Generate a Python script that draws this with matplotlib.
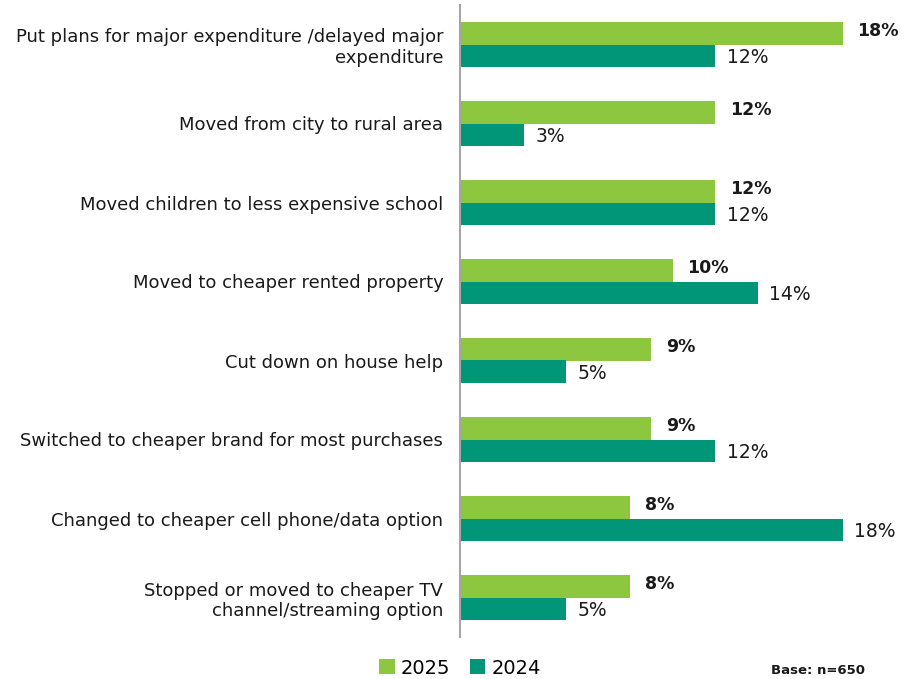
import matplotlib.pyplot as plt
import numpy as np

categories = [
    "Put plans for major expenditure /delayed major\nexpenditure",
    "Moved from city to rural area",
    "Moved children to less expensive school",
    "Moved to cheaper rented property",
    "Cut down on house help",
    "Switched to cheaper brand for most purchases",
    "Changed to cheaper cell phone/data option",
    "Stopped or moved to cheaper TV\nchannel/streaming option",
]
values_2025 = [18, 12, 12, 10, 9, 9, 8, 8]
values_2024 = [12, 3, 12, 14, 5, 12, 18, 5]

GREEN_25 = "#8DC63F"
TEAL_24 = "#009677"

plt.rcParams["font.family"] = ["DejaVu Sans"]

fig = plt.figure(figsize=(9.09, 6.79), dpi=100)
ax = fig.add_axes([460 / 909, 42 / 679, 425 / 909, 632 / 679])

y = np.arange(len(categories))
h = 0.28
ax.barh(y - h / 2, values_2025, height=h, color=GREEN_25, label="2025")
ax.barh(y + h / 2, values_2024, height=h, color=TEAL_24, label="2024")

# bold labels for the latest year, plain ones for the previous year
for yi, v in zip(y, values_2025):
    ax.text(v + 0.7, yi - h / 2 - 0.03, f"{v}%", va="center", ha="left",
            fontsize=12.5, fontweight="bold", color="#1a1a1a")
for yi, v in zip(y, values_2024):
    ax.text(v + 0.55, yi + h / 2 + 0.02, f"{v}%", va="center", ha="left",
            fontsize=13.5, color="#1a1a1a")

ax.set_xlim(0, 20)
ax.set_ylim(len(categories) - 0.5, -0.5)
ax.set_yticks(y)
ax.set_yticklabels(categories, fontsize=13, color="#1a1a1a",
                   ha="right", multialignment="right")
ax.tick_params(axis="y", length=0, pad=12)
ax.set_xticks([])
for side in ["top", "right", "bottom"]:
    ax.spines[side].set_visible(False)
ax.spines["left"].set_color("#a6a6a6")
ax.spines["left"].set_linewidth(1.5)

fig.legend(loc="center", bbox_to_anchor=(460 / 909, 1 - 668 / 679),
           ncol=2, frameon=False, fontsize=14, handlelength=0.8,
           handleheight=0.8, handletextpad=0.3, columnspacing=1.0)
fig.text(865 / 909, 1 - 670 / 679, "Base: n=650", ha="right", va="center",
         fontsize=9.5, fontweight="bold", color="#1a1a1a")

fig.savefig("out.png", dpi=100)
